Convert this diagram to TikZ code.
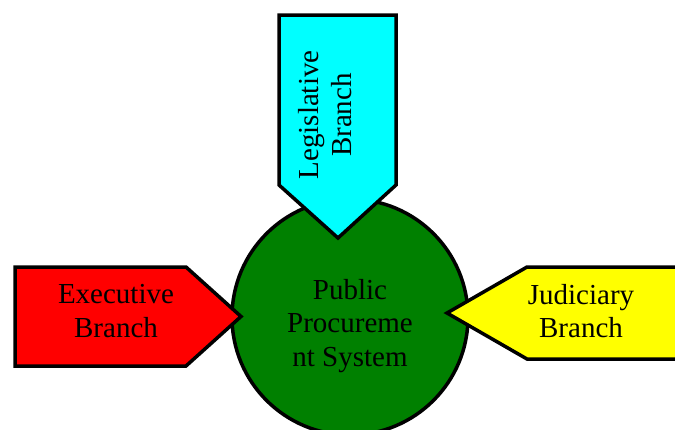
\documentclass[tikz,border=0pt]{standalone}
\usepackage{fontspec}
\setmainfont{Liberation Serif}
\usetikzlibrary{positioning}

\definecolor{sysgreen}{RGB}{0,128,0}
\definecolor{execred}{RGB}{255,0,0}
\definecolor{legcyan}{RGB}{0,255,255}
\definecolor{judyellow}{RGB}{255,255,0}

\begin{document}
\begin{tikzpicture}[x=1pt,y=-1pt,
    outline/.style={draw=black, line width=3.5pt, line join=miter},
    branchtext/.style={align=center, inner sep=0pt,
      font=\fontsize{29}{33.5}\selectfont}]
  \useasboundingbox (0,0) rectangle (675,429);
  \clip (0,0) rectangle (675,429);

  % the system in the middle
  \node (system) [circle, outline, fill=sysgreen, minimum size=236pt] at (350,317) {};
  \node (systemtext) [branchtext] at (350,326) {Public\\Procureme\\nt System};

  % the three branches pointing at it
  \filldraw[outline, fill=execred] (15,267) -- (186,267) -- (241,316.5) -- (186,366) -- (15,366) -- cycle;
  \node (executive) [branchtext] at (116,311) {Executive\\Branch};

  \filldraw[outline, fill=legcyan] (279,15) -- (396,15) -- (396,185) -- (338,238) -- (279,185) -- cycle;
  \node (legislative) [branchtext, rotate=90] at (325,115) {Legislative\\Branch};

  \filldraw[outline, fill=judyellow] (447,313) -- (527,267) -- (690,267) -- (690,359) -- (527,359) -- cycle;
  \node (judiciary) [branchtext] at (581,311) {Judiciary\\Branch};
\end{tikzpicture}
\end{document}
